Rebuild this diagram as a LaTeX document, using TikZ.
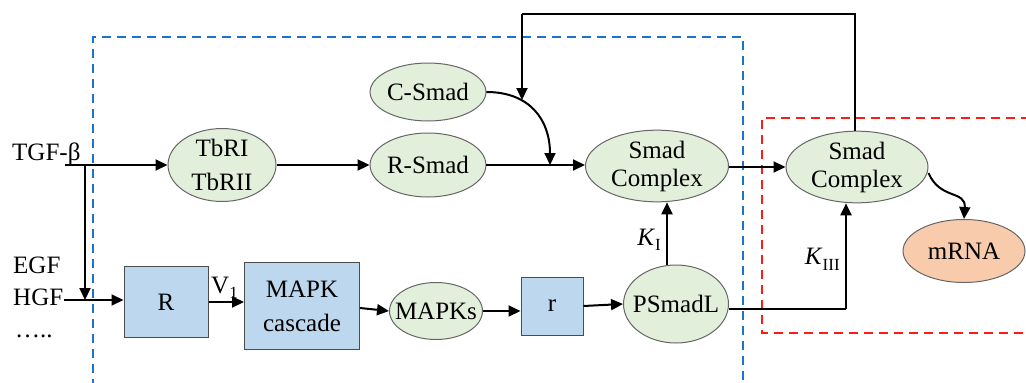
\documentclass[tikz,border=0pt]{standalone}
\usepackage{fontspec}
\setmainfont{Liberation Serif}
\usetikzlibrary{shapes.geometric,arrows.meta}
\definecolor{ellfill}{HTML}{E2EFDA}
\definecolor{boxfill}{HTML}{BDD7EE}
\definecolor{rnafill}{HTML}{F8CBAD}
\definecolor{bluedash}{HTML}{1B75C4}
\definecolor{reddash}{HTML}{FF1A1A}
\newcommand{\lowsub}[1]{\raisebox{-0.45ex}{\fontsize{17}{17}\selectfont #1}}
\newcommand{\tight}[1]{\makebox[0pt]{#1}}
\begin{document}
\begin{tikzpicture}[x=1pt,y=-1pt,
  every node/.style={font=\fontsize{25}{28}\selectfont},
  species/.style={ellipse,draw=black!60,line width=1pt,fill=ellfill,inner sep=0pt,align=center},
  block/.style={rectangle,draw=black!70,line width=1pt,fill=boxfill,inner sep=0pt,align=center},
  flow/.style={line width=2pt,-{Triangle[length=12pt,width=11pt]}},
  plain/.style={line width=2pt},
  region/.style={line width=2.2pt,dash pattern=on 9pt off 6pt}]
\useasboundingbox (0,0) rectangle (1026,383);

% compartments
\draw[region,bluedash] (93,388) -- (93,37) -- (743,37) -- (743,388);
\draw[region,reddash] (1030,118) -- (762,118) -- (762,333) -- (1030,333);

% species and blocks
\node[species,minimum width=108pt,minimum height=70pt] (tbr) at (222,165) {TbRI\\[6pt]TbRII};
\node[species,minimum width=113pt,minimum height=58pt] (csmad) at (428,92) {C-Smad};
\node[species,minimum width=113pt,minimum height=64pt] (rsmad) at (428,165) {R-Smad};
\node[species,minimum width=143pt,minimum height=70pt] (sc1) at (657,166) {Smad\\Complex};
\node[species,minimum width=142pt,minimum height=70pt] (sc2) at (857,167) {Smad\\Complex};
\node[ellipse,draw=black!60,line width=1pt,fill=rnafill,inner sep=0pt,minimum width=122pt,minimum height=63pt] (mrna) at (964,251) {mRNA};
\node[species,minimum width=105pt,minimum height=78pt] (psmadl) at (676,304) {\tight{PSmadL}};
\node[species,minimum width=93pt,minimum height=57pt] (mapks) at (436,311) {\tight{MAPKs}};
\node[block,minimum width=84pt,minimum height=71pt] (R) at (166,302) {R};
\node[block,minimum width=115pt,minimum height=87pt] (cascade) at (302,306) {MAPK\\[6pt]cascade};
\node[block,minimum width=62pt,minimum height=58pt] (r) at (552,306) {r};

% inputs
\node[anchor=base west,inner sep=0pt] (tgf) at (12,160) {TGF-β};
\node[anchor=base west,inner sep=0pt] (egf) at (13,273) {EGF};
\node[anchor=base west,inner sep=0pt] (hgf) at (13,305) {HGF};
\node[anchor=base west,inner sep=0pt] (dots) at (15,337) {…..};

\coordinate (tgfend) at (65,165);
\coordinate (split) at (85,165);
\coordinate (hgfend) at (64,300);
\coordinate (merge) at (85,300);
\draw[flow] (tgfend) -- (tbr.west);
\draw[flow] (split) -- (merge);
\draw[flow] (hgfend) -- (R.west |- hgfend);

% TGF-beta branch
\coordinate (join) at (550,165);
\draw[flow] (tbr.east) -- (rsmad.west);
\draw[flow] (rsmad.east) -- (sc1.west |- rsmad.east);
\draw[flow] (csmad.east) .. controls (530,92) and (550,120) .. (join);
\draw[flow] (sc1.east |- 0,167) -- (sc2.west |- 0,167);

% feedback loop
\coordinate (fbtop) at (855,14);
\coordinate (fbleft) at (522,14);
\coordinate (fbtip) at (522,100);
\draw[plain] (sc2.north -| fbtop) -- (fbtop) -- (fbleft);
\draw[flow] (fbleft) -- (fbtip);

% transcription
\draw[flow] (sc2.east |- 0,173) .. controls (940,200) and (966,190) .. (mrna.north);

% MAPK branch
\draw[flow] (R.east) -- node[above,pos=0.45,yshift=-1pt] {V\lowsub{1}} (cascade.west |- R.east);
\draw[flow] (cascade.east |- 0,308) -- (mapks.west);
\draw[flow] (mapks.east) -- (r.west |- mapks.east);
\draw[flow] (r.east) -- (psmadl.west);

% linker phosphorylation effects
\draw[flow] (psmadl.north -| 667,0) -- node[left,pos=0.4,xshift=-2pt] {\textit{K}\lowsub{I}} (sc1.south -| 667,0);
\coordinate (kcorner) at (846,309);
\draw[plain] (psmadl.east |- kcorner) -- (kcorner);
\draw[flow] (kcorner) -- node[left,pos=0.47,xshift=-2pt] {\textit{K}\lowsub{III}} (sc2.south -| kcorner);
\end{tikzpicture}
\end{document}
